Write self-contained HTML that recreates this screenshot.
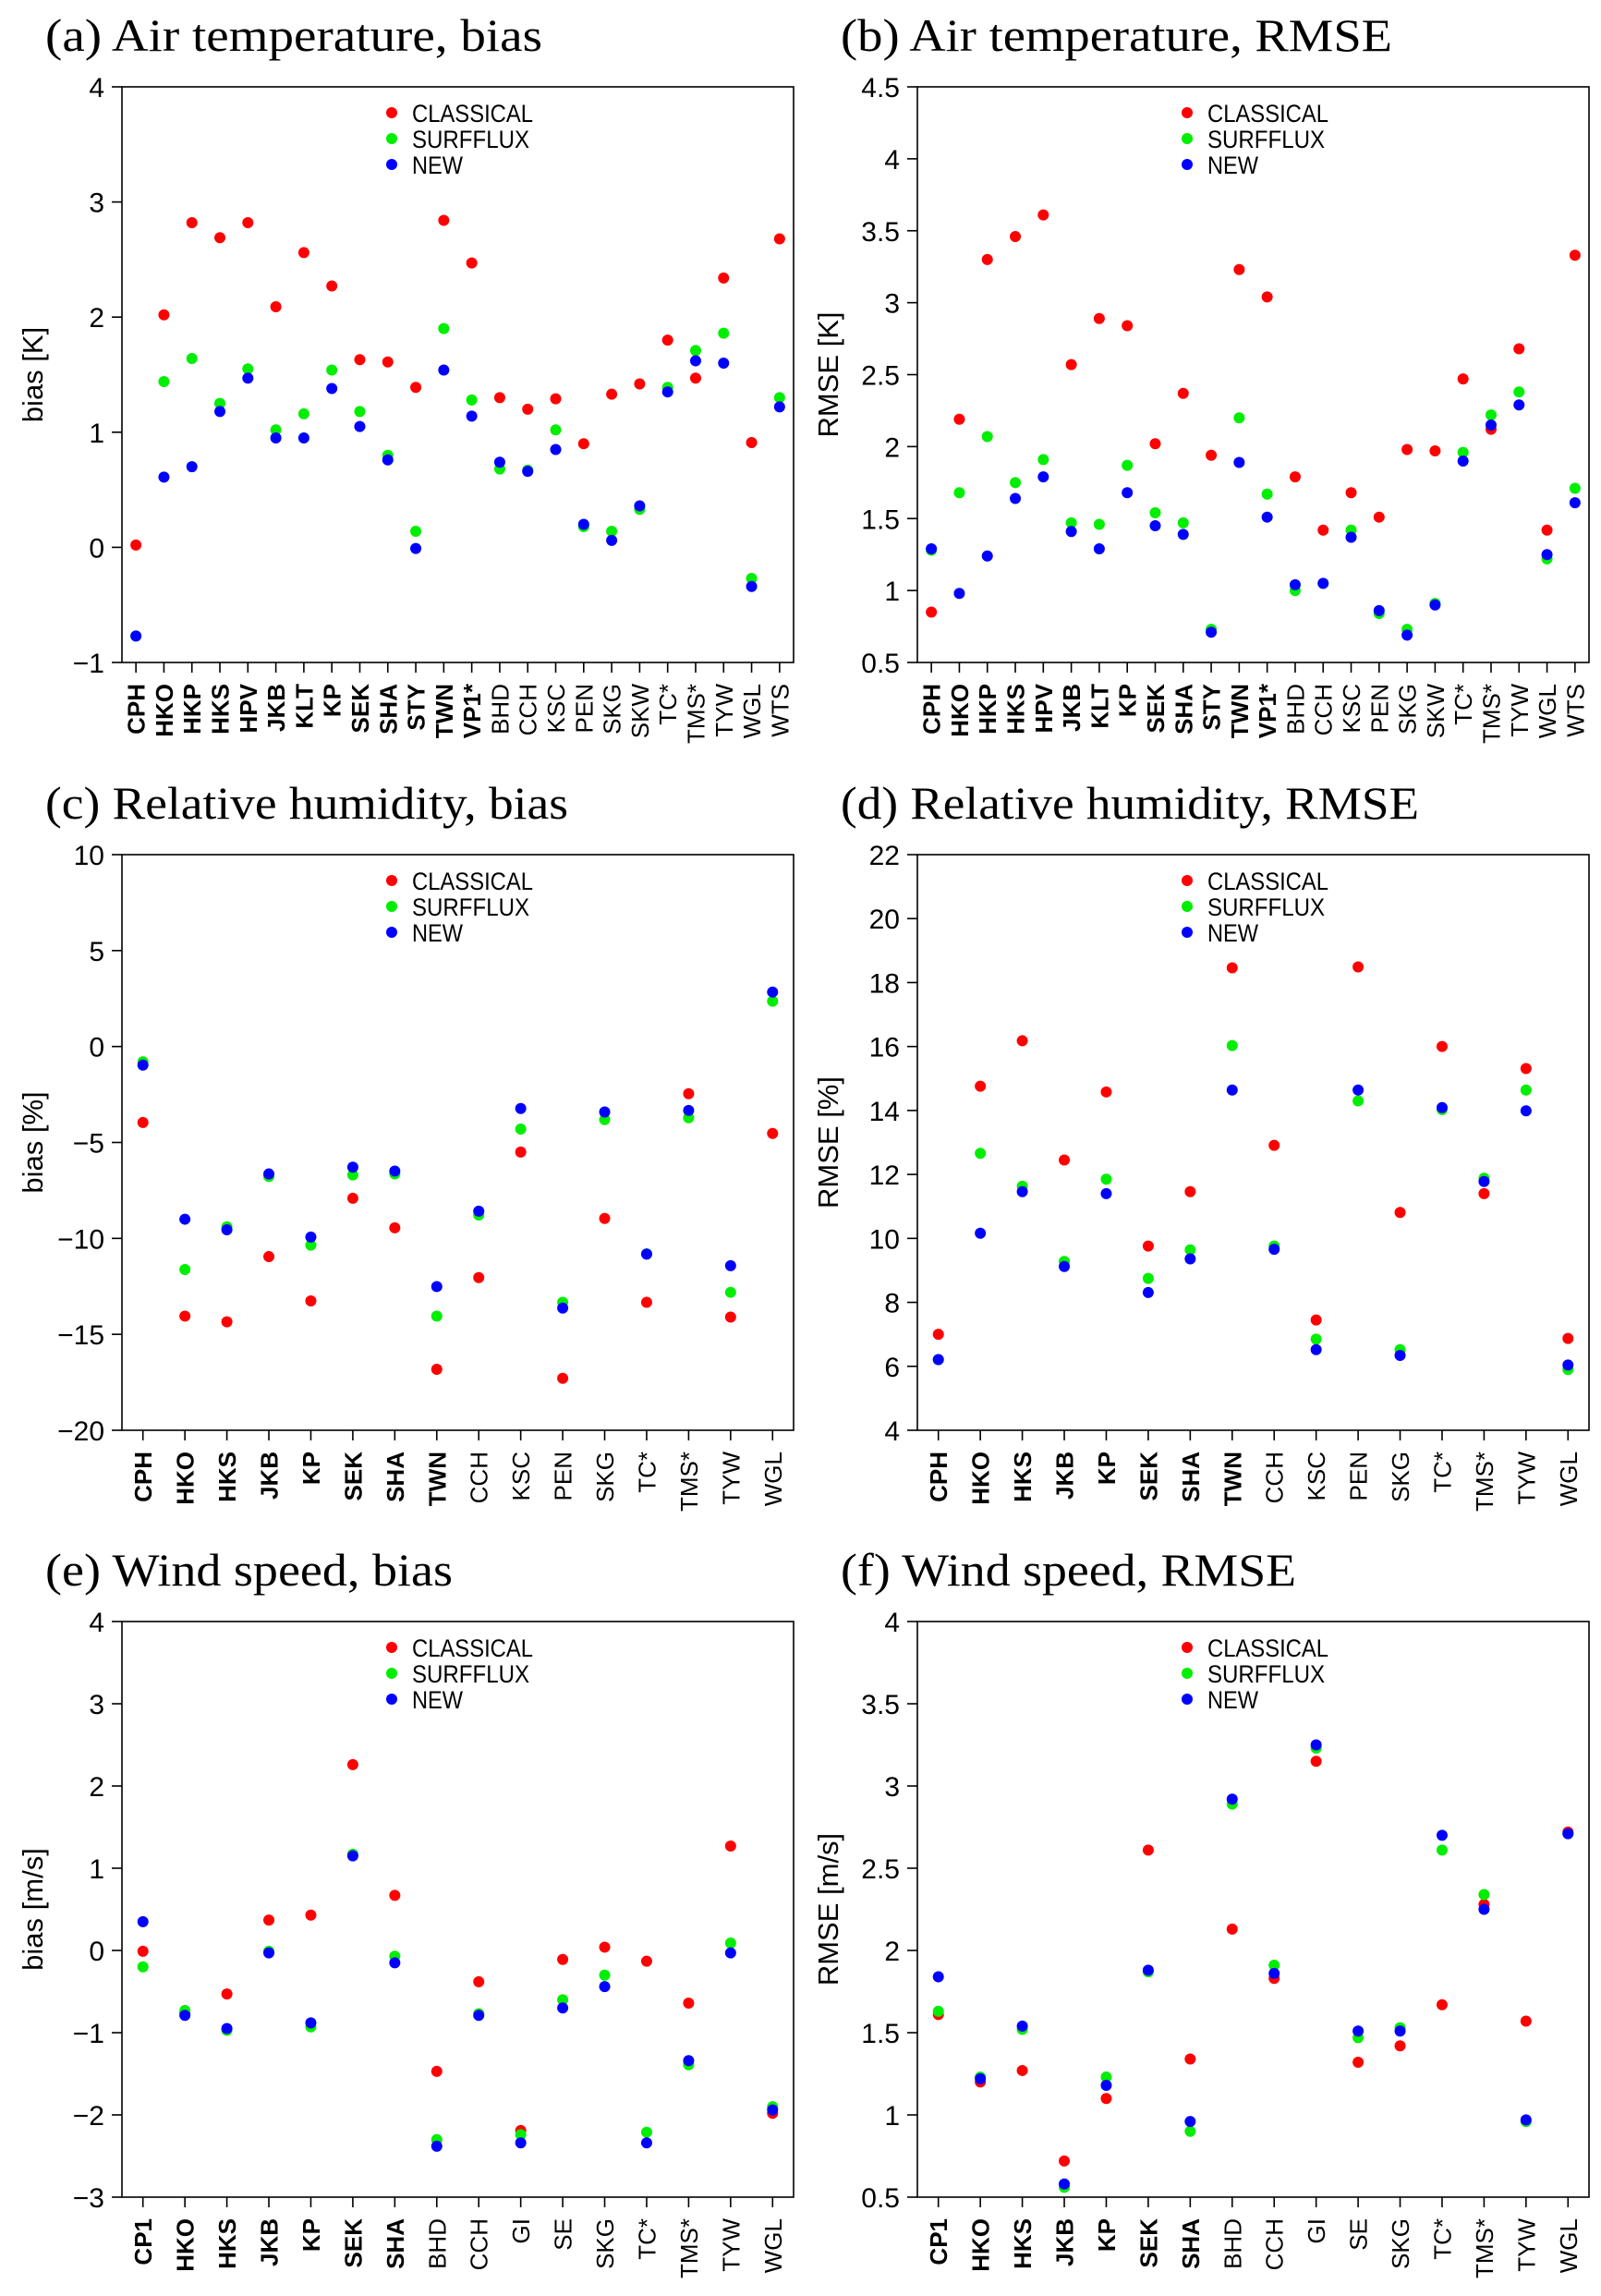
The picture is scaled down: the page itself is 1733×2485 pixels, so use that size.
<!DOCTYPE html>
<html><head><meta charset="utf-8"><style>
html,body{margin:0;padding:0;background:#fff;}
svg{display:block;}
</style></head><body>
<svg id="fig" width="1733" height="2485" viewBox="0 0 1733 2485" xmlns="http://www.w3.org/2000/svg"></svg>
<script>
// ---- categories ----
const catsAir = ["CPH","HKO","HKP","HKS","HPV","JKB","KLT","KP","SEK","SHA","STY","TWN","VP1*","BHD","CCH","KSC","PEN","SKG","SKW","TC*","TMS*","TYW","WGL","WTS"];
const boldAir = 13;
const catsRH = ["CPH","HKO","HKS","JKB","KP","SEK","SHA","TWN","CCH","KSC","PEN","SKG","TC*","TMS*","TYW","WGL"];
const boldRH = 8;
const catsWS = ["CP1","HKO","HKS","JKB","KP","SEK","SHA","BHD","CCH","GI","SE","SKG","TC*","TMS*","TYW","WGL"];
const boldWS = 7;
// ---- (a) air temp bias ----
const aRed = [0.02,2.02,2.82,2.69,2.82,2.09,2.56,2.27,1.63,1.61,1.39,2.84,2.47,1.30,1.20,1.29,0.90,1.33,1.42,1.80,1.47,2.34,0.91,2.68];
const aGreen = [-0.77,1.44,1.64,1.25,1.55,1.02,1.16,1.54,1.18,0.80,0.14,1.90,1.28,0.68,0.67,1.02,0.18,0.14,0.33,1.39,1.71,1.86,-0.27,1.30];
const aBlue = [-0.77,0.61,0.70,1.18,1.47,0.95,0.95,1.38,1.05,0.76,-0.01,1.54,1.14,0.74,0.66,0.85,0.20,0.06,0.36,1.35,1.62,1.60,-0.34,1.22];
const aTicks = [-1,0,1,2,3,4];
// ---- (b) air temp RMSE ----
const bRed = [0.85,2.19,3.30,3.46,3.61,2.57,2.89,2.84,2.02,2.37,1.94,3.23,3.04,1.79,1.42,1.68,1.51,1.98,1.97,2.47,2.12,2.68,1.42,3.33];
const bGreen = [1.28,1.68,2.07,1.75,1.91,1.47,1.46,1.87,1.54,1.47,0.73,2.20,1.67,1.00,1.05,1.42,0.84,0.73,0.91,1.96,2.22,2.38,1.22,1.71];
const bBlue = [1.29,0.98,1.24,1.64,1.79,1.41,1.29,1.68,1.45,1.39,0.71,1.89,1.51,1.04,1.05,1.37,0.86,0.69,0.90,1.90,2.15,2.29,1.25,1.61];
const bTicks = [0.5,1,1.5,2,2.5,3,3.5,4,4.5];
// ---- (c) RH bias ----
const cRed = [-3.96,-14.05,-14.35,-10.95,-13.26,-7.91,-9.45,-16.82,-12.04,-5.50,-17.29,-8.96,-13.33,-2.46,-14.10,-4.53];
const cGreen = [-0.80,-11.62,-9.40,-6.77,-10.35,-6.69,-6.64,-14.05,-8.78,-4.30,-13.33,-3.81,-10.80,-3.71,-12.81,2.36];
const cBlue = [-0.97,-9.00,-9.55,-6.64,-9.93,-6.29,-6.49,-12.51,-8.58,-3.23,-13.63,-3.41,-10.82,-3.33,-11.42,2.84];
const cTicks = [-20,-15,-10,-5,0,5,10];
// ---- (d) RH RMSE ----
const dRed = [7.00,14.76,16.18,12.45,14.58,9.76,11.46,18.46,12.91,7.45,18.49,10.81,16.00,11.40,15.31,6.87];
const dGreen = [6.21,12.66,11.63,9.28,11.85,8.75,9.64,16.03,9.76,6.85,14.30,6.52,14.03,11.88,14.64,5.90];
const dBlue = [6.21,10.16,11.46,9.12,11.40,8.31,9.36,14.64,9.66,6.52,14.64,6.34,14.09,11.78,13.99,6.04];
const dTicks = [4,6,8,10,12,14,16,18,20,22];
// ---- (e) wind bias ----
const eRed = [-0.01,-0.76,-0.53,0.37,0.43,2.26,0.67,-1.47,-0.38,-2.19,-0.11,0.04,-0.13,-0.64,1.27,-1.98];
const eGreen = [-0.20,-0.73,-0.97,-0.01,-0.93,1.17,-0.07,-2.30,-0.77,-2.24,-0.60,-0.30,-2.21,-1.39,0.09,-1.90];
const eBlue = [0.35,-0.79,-0.95,-0.03,-0.88,1.15,-0.15,-2.38,-0.79,-2.34,-0.70,-0.44,-2.34,-1.34,-0.03,-1.94];
const eTicks = [-3,-2,-1,0,1,2,3,4];
// ---- (f) wind RMSE ----
const fRed = [1.61,1.20,1.27,0.72,1.10,2.61,1.34,2.13,1.83,3.15,1.32,1.42,1.67,2.28,1.57,2.72];
const fGreen = [1.63,1.23,1.52,0.56,1.23,1.87,0.90,2.89,1.91,3.23,1.47,1.53,2.61,2.34,0.96,2.71];
const fBlue = [1.84,1.22,1.54,0.58,1.18,1.88,0.96,2.92,1.86,3.25,1.51,1.51,2.70,2.25,0.97,2.71];
const fTicks = [0.5,1,1.5,2,2.5,3,3.5,4];

const NS = "http://www.w3.org/2000/svg";
const svg = document.getElementById("fig");
function mk(tag, attrs, parent){
  const e = document.createElementNS(NS, tag);
  for (const k in attrs) e.setAttribute(k, attrs[k]);
  (parent||svg).appendChild(e);
  return e;
}
function fmt(v){ return (v<0 ? "\u2212" : "") + String(Math.abs(v)); }

const H = 623, W = 727;
function panel(id, title, titleLen, left, top, cats, nBold, red, green, blue, ticks, ylab){
  const g = mk("g", {});
  
  
  const bottom = top + H;
  const ymin = ticks[0], ymax = ticks[ticks.length-1];
  const n = cats.length;
  const xs = i => left + (i + 0.5) * W / n;
  const ys = v => bottom - (v - ymin) / (ymax - ymin) * H;
  const t = mk("text", {x: left - 83, y: top - 39, "font-family": "Liberation Serif, serif", "font-size": 50, textLength: titleLen, lengthAdjust: "spacingAndGlyphs", fill: "#000"}, g);
  t.textContent = title;
  
  
  const box = mk("rect", {x: left, y: top, width: W, height: H, fill: "none", stroke: "#000", "stroke-width": 1.6}, g);
  
  
  ticks.forEach(v => {
    const y = ys(v);
    const tk = mk("line", {x1: left - 11, x2: left, y1: y, y2: y, stroke: "#000", "stroke-width": 1.6}, g);
    
    
    const tl = mk("text", {x: left - 19, y: y + 11, "text-anchor": "end", "font-family": "Liberation Sans, sans-serif", "font-size": 30, fill: "#000"}, g);
    tl.textContent = fmt(v);
    
    
  });
  const yl = mk("text", {x: 0, y: 0, transform: "translate(" + (left - 86) + "," + (top + H/2) + ") rotate(-90)", "text-anchor": "middle", "font-family": "Liberation Sans, sans-serif", "font-size": 31, fill: "#000"}, g);
  yl.textContent = ylab;
  
  
  cats.forEach((c, i) => {
    const x = xs(i);
    const tk = mk("line", {x1: x, x2: x, y1: bottom, y2: bottom + 11, stroke: "#000", "stroke-width": 1.6}, g);
    
    
    const tl = mk("text", {x: 0, y: 0, transform: "translate(" + (x + 9.5) + "," + (bottom + 23) + ") rotate(-90)", "text-anchor": "end", "font-family": "Liberation Sans, sans-serif", "font-size": 26, "font-weight": i < nBold ? "bold" : "normal", fill: "#000"}, g);
    tl.textContent = c;
    
    
  });
  const series = [["classical", red, "#ff0000"], ["surfflux", green, "#00ee00"], ["new", blue, "#0000ff"]];
  series.forEach(([nm, arr, col]) => {
    arr.forEach((v, i) => {
      const p = mk("circle", {cx: xs(i), cy: ys(v), r: 6, fill: col}, g);
      
      
    });
  });
  const lg = mk("g", {}, g);
  
  
  const labs = [["CLASSICAL", "#ff0000", 131], ["SURFFLUX", "#00ee00", 127], ["NEW", "#0000ff", 55]];
  labs.forEach(([txt, col, len], k) => {
    const cy = top + 28 + k * 28;
    const d = mk("circle", {cx: left + 292, cy: cy, r: 6, fill: col}, lg);
    
    
    const lt = mk("text", {x: left + 314, y: cy + 10, "font-family": "Liberation Sans, sans-serif", "font-size": 27, textLength: len, lengthAdjust: "spacingAndGlyphs", fill: "#000"}, lg);
    lt.textContent = txt;
    
    
  });
}
panel("a", "(a) Air temperature, bias", 538, 132, 94, catsAir, boldAir, aRed, aGreen, aBlue, aTicks, "bias [K]");
panel("b", "(b) Air temperature, RMSE", 597, 993, 94, catsAir, boldAir, bRed, bGreen, bBlue, bTicks, "RMSE [K]");
panel("c", "(c) Relative humidity, bias", 566, 132, 925, catsRH, boldRH, cRed, cGreen, cBlue, cTicks, "bias [%]");
panel("d", "(d) Relative humidity, RMSE", 626, 993, 925, catsRH, boldRH, dRed, dGreen, dBlue, dTicks, "RMSE [%]");
panel("e", "(e) Wind speed, bias", 441, 132, 1755, catsWS, boldWS, eRed, eGreen, eBlue, eTicks, "bias [m/s]");
panel("f", "(f) Wind speed, RMSE", 493, 993, 1755, catsWS, boldWS, fRed, fGreen, fBlue, fTicks, "RMSE [m/s]");
</script>
</body></html>
